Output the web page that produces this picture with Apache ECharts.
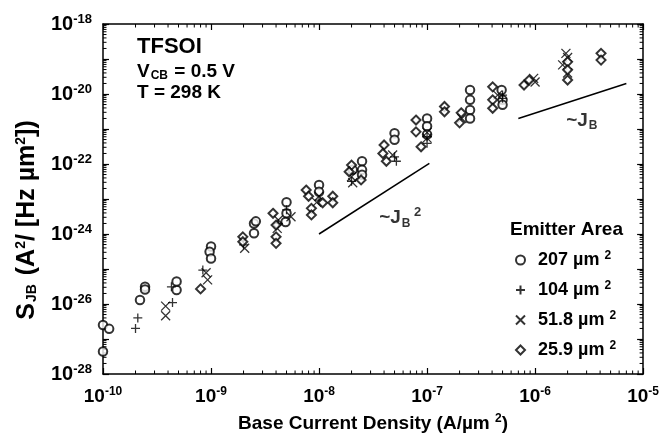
<!DOCTYPE html>
<html><head><meta charset="utf-8">
<script src="https://cdn.jsdelivr.net/npm/echarts@6/dist/echarts.min.js"></script>
<style>html,body{margin:0;padding:0;background:#fff}#c{width:662px;height:447px}</style>
</head><body><div id="c"></div>
<script>
// ---- tick labels (decade exponents) ----
const xTickLabels = ['-10', '-9', '-8', '-7', '-6', '-5'];
const yTickLabels = ['-28', '-26', '-24', '-22', '-20', '-18'];
const xRange = [1e-10, 1e-5];
const yRange = [1e-28, 1e-18];

// ---- series (J_B [A/um^2], S_JB [A^2/(Hz um^2)]) ----
const area207 = [
  [1.0e-10, 4.4e-28], [1.0e-10, 2.5e-27], [1.14e-10, 1.95e-27],
  [2.2e-10, 1.3e-26], [2.45e-10, 3.1e-26], [2.45e-10, 2.6e-26],
  [4.8e-10, 2.5e-26], [4.8e-10, 4.4e-26],
  [1.0e-9, 4.4e-25], [9.7e-10, 3.1e-25], [1.0e-9, 2.0e-25],
  [2.5e-9, 2.0e-24], [2.6e-9, 2.3e-24], [2.5e-9, 1.05e-24],
  [5.0e-9, 8.1e-24], [5.0e-9, 3.9e-24], [4.9e-9, 2.2e-24],
  [1.0e-8, 2.5e-23], [1.0e-8, 1.6e-23],
  [2.05e-8, 6.8e-23], [2.5e-8, 1.2e-22], [2.5e-8, 6.8e-23], [2.5e-8, 4.9e-23],
  [5.0e-8, 7.6e-22], [5.0e-8, 4.9e-22],
  [1.0e-7, 2.0e-21], [1.0e-7, 1.2e-21], [1.0e-7, 7.0e-22],
  [2.5e-7, 1.3e-20], [2.5e-7, 6.8e-21], [2.5e-7, 3.5e-21], [2.5e-7, 2.0e-21],
  [4.9e-7, 1.3e-20], [5.0e-7, 6.8e-21], [5.0e-7, 4.9e-21]
];
const area104 = [
  [2.0e-10, 2.0e-27], [2.1e-10, 4.0e-27],
  [4.3e-10, 3.1e-26], [4.4e-10, 1.1e-26],
  [8.4e-10, 9.3e-26],
  [2.0e-9, 4.9e-25],
  [4.2e-9, 2.0e-24], [5.0e-9, 4.9e-24],
  [1.0e-8, 9.3e-24],
  [2.0e-8, 3.2e-23],
  [5.0e-8, 1.6e-22], [5.2e-8, 1.2e-22],
  [1.0e-7, 3.9e-22], [1.0e-7, 6.0e-22],
  [5.0e-7, 9.3e-21], [5.0e-7, 7.5e-21]
];
const area51_8 = [
  [3.8e-10, 8.7e-27], [3.8e-10, 4.6e-27],
  [9.3e-10, 4.9e-26], [9.0e-10, 7.8e-26],
  [2.05e-9, 3.9e-25],
  [4.2e-9, 2.5e-24], [4.1e-9, 1.45e-24], [5.5e-9, 3.1e-24],
  [1.0e-8, 1.2e-23], [9.5e-9, 8.0e-24],
  [2.05e-8, 2.9e-23], [2.0e-8, 4.3e-23],
  [4.8e-8, 1.8e-22],
  [1.0e-7, 5.5e-22], [1.0e-7, 8.0e-22],
  [2.1e-7, 2.0e-21],
  [4.5e-7, 9.3e-21],
  [1.0e-6, 2.2e-20], [9.7e-7, 2.8e-20],
  [1.93e-6, 1.45e-19], [2.0e-6, 1.1e-19], [1.8e-6, 6.8e-20], [2.0e-6, 4.0e-20]
];
const area25_9 = [
  [8.0e-10, 2.7e-26],
  [1.97e-9, 8.3e-25], [1.97e-9, 6.0e-25],
  [3.75e-9, 3.9e-24], [4.0e-9, 1.8e-24], [4.0e-9, 8.3e-25], [4.0e-9, 5.4e-25],
  [7.6e-9, 1.8e-23], [8.0e-9, 1.2e-23], [8.5e-9, 5.4e-24], [8.5e-9, 3.5e-24],
  [1.08e-8, 7.8e-24], [1.34e-8, 1.2e-23], [1.34e-8, 7.8e-24],
  [2.0e-8, 9.3e-23], [1.9e-8, 6.0e-23], [2.45e-8, 3.5e-23],
  [4.0e-8, 3.5e-22], [3.9e-8, 2.0e-22], [4.2e-8, 1.2e-22],
  [7.9e-8, 1.8e-21], [7.9e-8, 8.3e-22], [8.8e-8, 3.1e-22],
  [1.45e-7, 4.4e-21], [1.45e-7, 3.1e-21],
  [2.07e-7, 2.9e-21], [2.0e-7, 1.5e-21],
  [4.05e-7, 1.6e-20], [4.05e-7, 6.8e-21], [4.05e-7, 3.9e-21],
  [7.9e-7, 1.8e-20], [8.8e-7, 2.5e-20],
  [2.0e-6, 8.3e-20], [2.0e-6, 4.9e-20], [2.0e-6, 2.5e-20],
  [4.08e-6, 1.45e-19], [4.08e-6, 9.3e-20]
];
// guide lines ~J_B^2 and ~J_B
const slope2Line = [[1.0e-8, 1.0e-24], [1.05e-7, 1.05e-22]];
const slope1Line = [[7.0e-7, 2.0e-21], [7.0e-6, 2.0e-20]];
// annotation anchors
const slope2Label = [[3.6e-8, 2.9e-24]];
const slope1Label = [[1.94e-6, 1.7e-21]];
const legendNames = ['207', '104', '51.8', '25.9'];

// The axes are logarithmic: values are placed on decade (log10) value axes.
const lg = v => Math.log10(v);
const toLog = arr => arr.map(p => [lg(p[0]), lg(p[1])]);
const X0 = lg(xRange[0]), X1 = lg(xRange[1]);
const Y0 = lg(yRange[0]), Y1 = lg(yRange[1]);

// minor tick positions (2..9 within each decade)
function minorTicks(lo, hi) {
  const out = [];
  for (let e = lo; e < hi; e++) for (let k = 2; k <= 9; k++) out.push(e + Math.log10(k));
  return out;
}
const xMinor = minorTicks(X0, X1);
const yMinor = minorTicks(Y0, Y1);

const FONT = 'Liberation Sans, Arial, Helvetica, sans-serif';
const C = '#000';
const richX = {
  b: { fontSize: 19, fontWeight: 'bold', fontFamily: FONT, color: C },
  s: { fontSize: 12, fontWeight: 'bold', fontFamily: FONT, color: C, verticalAlign: 'top', padding: [0, 0, 9, 0] }
};
const richY = {
  b: { fontSize: 20, fontWeight: 'bold', fontFamily: FONT, color: C },
  s: { fontSize: 13, fontWeight: 'bold', fontFamily: FONT, color: C, verticalAlign: 'top', padding: [0, 0, 9, 0] }
};
const expStr = v => String(Math.round(v));

const chart = echarts.init(document.getElementById('c'), null, { renderer: 'canvas' });

const axisCommon = {
  axisLine: { show: true, lineStyle: { color: C, width: 1.5 } },
  axisTick: { show: true, inside: true, length: 6, lineStyle: { color: C, width: 1.2 } },
  splitLine: { show: false }
};

const sym = {
  plus: 'path://M0,5L10,5M5,0L5,10',
  cross: 'path://M0,0L10,10M10,0L0,10'
};
const markerStyle = { color: 'rgba(0,0,0,0)', borderColor: C, borderWidth: 1.3 };

const option = {
  backgroundColor: '#fff',
  animation: false,
  grid: { left: 103, right: 18, top: 24, bottom: 73 },
  xAxis: [
    Object.assign({
      type: 'value', min: X0, max: X1, interval: 1, position: 'bottom',
      axisLabel: {
        margin: 12,
        formatter: v => xTickLabels.includes(expStr(v)) ? '{b|10}{s|' + expStr(v) + '}' : '',
        rich: richX
      },
      name: '{b|Base Current Density (A/µm }{s|2}{b|)}',
      nameLocation: 'middle', nameGap: 39,
      nameTextStyle: { rich: { b: { fontSize: 19, fontWeight: 'bold', fontFamily: FONT, color: C }, s: richX.s } }
    }, axisCommon),
    Object.assign({
      type: 'value', min: X0, max: X1, interval: 1, position: 'top',
      axisLabel: { show: false }
    }, axisCommon)
  ],
  yAxis: [
    Object.assign({
      type: 'value', min: Y0, max: Y1, interval: 1, position: 'left',
      axisLabel: {
        margin: 11,
        formatter: v => yTickLabels.includes(expStr(v)) ? '{b|10}{s|' + expStr(v) + '}' : '',
        rich: richY
      }
    }, axisCommon),
    Object.assign({
      type: 'value', min: Y0, max: Y1, interval: 1, position: 'right',
      axisLabel: { show: false }
    }, axisCommon)
  ],
  legend: {
    data: legendNames,
    orient: 'vertical',
    left: 510, top: 245,
    itemWidth: 9, itemHeight: 9, itemGap: 11,
    formatter: n => '{t|' + n + ' µm }{s|2}',
    textStyle: {
      rich: {
        t: { fontSize: 18, fontWeight: 'bold', fontFamily: FONT, color: C, padding: [0, 0, 0, 8] },
        s: { fontSize: 12, fontWeight: 'bold', fontFamily: FONT, color: C, verticalAlign: 'top', padding: [0, 0, 8, 0] }
      }
    }
  },
  graphic: [
    { type: 'text', left: 137, top: 36, style: { text: 'TFSOI', font: 'bold 22px ' + FONT, fill: C } },
    { type: 'text', left: 137, top: 62, style: {
        text: '{b|V}{sub|CB}{b| = 0.5 V}',
        rich: {
          b: { fontSize: 19, fontWeight: 'bold', fontFamily: FONT, color: C },
          sub: { fontSize: 12, fontWeight: 'bold', fontFamily: FONT, color: C, verticalAlign: 'bottom', padding: [8, 1, 0, 1] }
        } } },
    { type: 'text', left: 137, top: 83, style: { text: 'T = 298 K', font: 'bold 19px ' + FONT, fill: C } },
    { type: 'text', left: 510, top: 220, style: { text: 'Emitter Area', font: 'bold 19px ' + FONT, fill: C } },
    { type: 'text', x: 27, y: 220, rotation: Math.PI / 2,
      style: {
        text: '{b|S}{sub|JB}{b| (A}{sup|2}{b|/ [Hz µm}{sup|2}{b|])}',
        align: 'center', verticalAlign: 'middle',
        rich: {
          b: { fontSize: 25, fontWeight: 'bold', fontFamily: FONT, color: C },
          sub: { fontSize: 14, fontWeight: 'bold', fontFamily: FONT, color: C, verticalAlign: 'bottom', padding: [11, 2, 0, 1] },
          sup: { fontSize: 14, fontWeight: 'bold', fontFamily: FONT, color: C, verticalAlign: 'top', padding: [0, 0, 11, 0] }
        }
      } }
  ],
  series: [
    { name: '207', type: 'scatter', data: toLog(area207), symbol: 'emptyCircle', symbolSize: 8.5,
      itemStyle: { color: C, borderColor: C, borderWidth: 1.3 } },
    { name: '104', type: 'scatter', data: toLog(area104), symbol: sym.plus, symbolSize: 9, itemStyle: markerStyle },
    { name: '51.8', type: 'scatter', data: toLog(area51_8), symbol: sym.cross, symbolSize: 9, itemStyle: markerStyle },
    { name: '25.9', type: 'scatter', data: toLog(area25_9), symbol: 'emptyDiamond', symbolSize: [9, 9],
      itemStyle: { color: C, borderColor: C, borderWidth: 1.3 } },
    { type: 'line', data: toLog(slope2Line), symbol: 'none', lineStyle: { color: C, width: 1.5 } },
    { type: 'line', data: toLog(slope1Line), symbol: 'none', lineStyle: { color: C, width: 1.5 } },
    { type: 'scatter', data: toLog(slope2Label), symbolSize: 0, silent: true,
      label: { show: true, position: 'right', distance: 0,
        formatter: '{b|~J}{sub|B}{sup| 2}',
        rich: {
          b: { fontSize: 19, fontWeight: 'bold', fontFamily: FONT, color: C },
          sub: { fontSize: 12, fontWeight: 'bold', fontFamily: FONT, color: C, verticalAlign: 'bottom', padding: [10, 0, 0, 1] },
          sup: { fontSize: 13, fontWeight: 'bold', fontFamily: FONT, color: C, verticalAlign: 'top', padding: [0, 0, 10, 0] }
        } } },
    { type: 'scatter', data: toLog(slope1Label), symbolSize: 0, silent: true,
      label: { show: true, position: 'right', distance: 0,
        formatter: '{b|~J}{sub|B}',
        rich: {
          b: { fontSize: 19, fontWeight: 'bold', fontFamily: FONT, color: C },
          sub: { fontSize: 12, fontWeight: 'bold', fontFamily: FONT, color: C, verticalAlign: 'bottom', padding: [10, 0, 0, 1] }
        } } },
    { type: 'custom', silent: true, clip: false,
      data: xMinor.map(v => [v, Y0]),
      renderItem: (p, api) => {
        const v = api.value(0);
        const b = api.coord([v, Y0]);
        const t = api.coord([v, Y1]);
        return { type: 'group', children: [
          { type: 'line', shape: { x1: b[0], y1: b[1], x2: b[0], y2: b[1] - 3.5 }, style: { stroke: C, lineWidth: 1 } },
          { type: 'line', shape: { x1: t[0], y1: t[1], x2: t[0], y2: t[1] + 3.5 }, style: { stroke: C, lineWidth: 1 } }
        ] };
      } },
    { type: 'custom', silent: true, clip: false,
      data: yMinor.map(v => [X0, v]),
      renderItem: (p, api) => {
        const v = api.value(1);
        const l = api.coord([X0, v]);
        const r = api.coord([X1, v]);
        return { type: 'group', children: [
          { type: 'line', shape: { x1: l[0], y1: l[1], x2: l[0] + 3.5, y2: l[1] }, style: { stroke: C, lineWidth: 1 } },
          { type: 'line', shape: { x1: r[0], y1: r[1], x2: r[0] - 3.5, y2: r[1] }, style: { stroke: C, lineWidth: 1 } }
        ] };
      } }
  ]
};
chart.setOption(option);
</script></body></html>
